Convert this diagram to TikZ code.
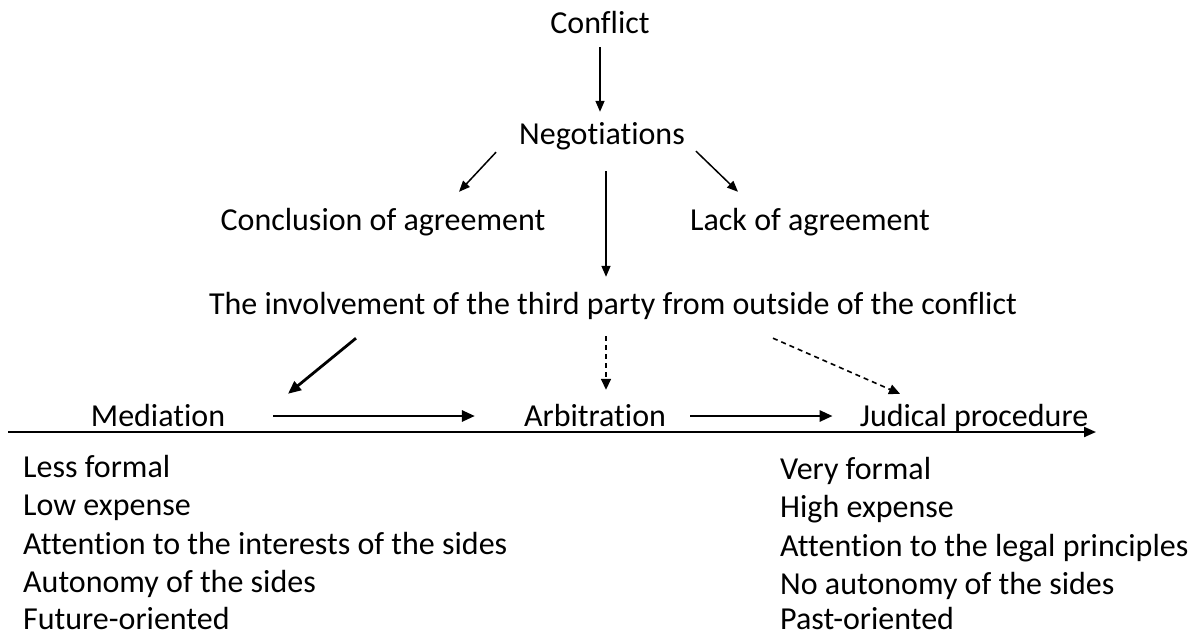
\documentclass[tikz,border=0pt]{standalone}
\usepackage{fontspec}
\setmainfont{Carlito}[RawFeature=-liga]
\usetikzlibrary{arrows.meta,calc}
\begin{document}
\begin{tikzpicture}[x=1pt,y=-1pt,
  lbl/.style={inner sep=0pt,text height=24pt,text depth=4pt,font=\fontsize{32}{38}\selectfont},
  item/.style={lbl,anchor=west},
  thin/.style={line width=1.5pt,-{Triangle[length=11pt,width=9pt]}},
  thick/.style={line width=2.8pt,-{Triangle[length=13pt,width=11pt]}},
  dsh/.style={line width=1.6pt,dash pattern=on 5pt off 4pt,-{Triangle[length=11pt,width=10pt]}}]
\useasboundingbox (0,0) rectangle (1204,635);
\node[lbl] (conf) at (600,23) {Conflict};
\node[lbl] (neg) at (602,134) {Negotiations};
\node[lbl] (concl) at (383,220) {Conclusion of agreement};
\node[lbl] (lack) at (810,220) {Lack of agreement};
\node[lbl] (third) at (613,304) {The involvement of the third party from outside of the conflict};
\node[lbl] (med) at (158,416) {Mediation};
\node[lbl] (arb) at (595,416) {Arbitration};
\node[lbl] (jud) at (974,416) {Judical procedure};
\coordinate (tl) at (8,432);
\coordinate (tr) at (1096,432);
\draw[thin] ($(conf.south)+(0,10)$) -- ($(neg.north)+(-2,-8)$);
\draw[thin] ($(neg.south)+(-106,4)$) -- ($(concl.north)+(76,-14)$);
\draw[thin] ($(neg.south)+(94,3)$) -- ($(lack.north)+(-72,-14)$);
\draw[thin] ($(neg.south)+(4,23)$) -- ($(third.north)+(-7,-13)$);
\draw[thick] ($(third.south)+(-257,20)$) -- ($(med.north)+(130,-8)$);
\draw[dsh] ($(third.south)+(-7,18)$) -- ($(arb.north)+(11,-12)$);
\draw[dsh] ($(third.south)+(160,20)$) -- ($(jud.north)+(-74,-8)$);
\draw[thick] ($(med.east)+(48,0)$) -- ($(arb.west)+(-49,0)$);
\draw[thick] ($(arb.east)+(24,0)$) -- ($(jud.west)+(-27,0)$);
\draw[line width=2pt,-{Triangle[length=12pt,width=10pt]}] (tl) -- (tr);
\node[item] (l1) at (23,467) {Less formal};
\node[item] (l2) at (23,505) {Low expense};
\node[item] (l3) at (23,544) {Attention to the interests of the sides};
\node[item] (l4) at (23,582) {Autonomy of the sides};
\node[item] (l5) at (23,619) {Future-oriented};
\node[item] (r1) at (780,469) {Very formal};
\node[item] (r2) at (780,507) {High expense};
\node[item] (r3) at (780,546) {Attention to the legal principles};
\node[item] (r4) at (780,584) {No autonomy of the sides};
\node[item] (r5) at (780,619) {Past-oriented};
\end{tikzpicture}
\end{document}
